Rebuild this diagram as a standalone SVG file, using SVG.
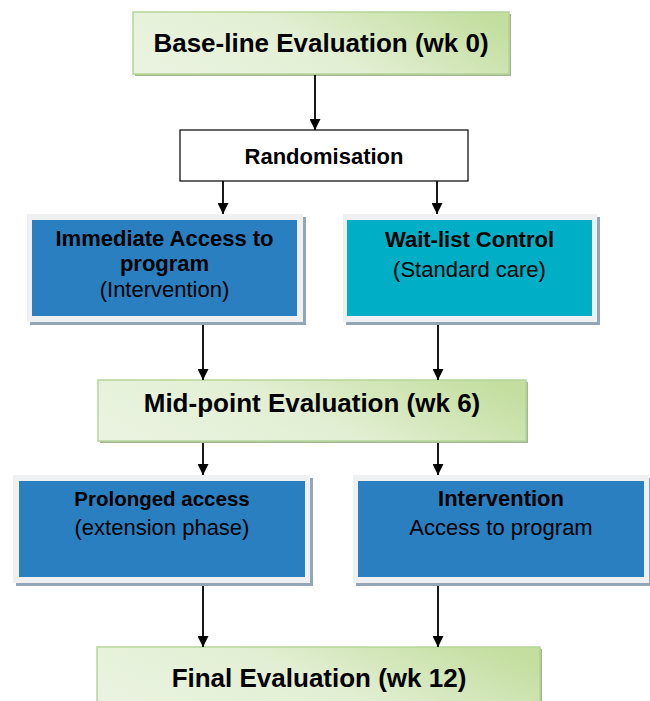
<svg xmlns="http://www.w3.org/2000/svg" width="650" height="701" viewBox="0 0 650 701">
<defs>
<linearGradient id="g" x1="0" y1="0.6" x2="1" y2="0.3">
<stop offset="0" stop-color="#e9f3df"/>
<stop offset="0.45" stop-color="#e3efd4"/>
<stop offset="1" stop-color="#c3de9f"/>
</linearGradient>
<marker id="ah" viewBox="0 0 10 10" refX="10" refY="5" markerWidth="11" markerHeight="11" markerUnits="userSpaceOnUse" orient="auto">
<path d="M0,0 L10,5 L0,10 z" fill="#000"/>
</marker>
<style>
.ev{fill:url(#g);stroke:#b5d698;stroke-width:1.5}
.evs{fill:#a3b592}
.frame{fill:#eef0f2}
.fs{fill:#93a6b8}
.blue{fill:#2a7fc1}
.cyan{fill:#00afc6}
.t{font-family:"Liberation Sans",Arial,sans-serif;fill:#000;text-anchor:middle}
.b{font-weight:bold}
.c line{stroke:#000;stroke-width:1.8;marker-end:url(#ah)}
</style>
</defs>
<rect width="650" height="701" fill="#fff"/>

<g id="baseline">
<rect class="evs" x="135" y="14" width="376" height="62"/>
<rect class="ev" x="133" y="12" width="376" height="62"/>
<text class="t b" x="321" y="52" font-size="26">Base-line Evaluation (wk 0)</text>
</g>

<g id="randomisation">
<rect x="180" y="130" width="288" height="51" fill="#fff" stroke="#000" stroke-width="1.2"/>
<text class="t b" x="324" y="164" font-size="22">Randomisation</text>
</g>

<g id="immediate">
<rect class="fs" x="30" y="217" width="276" height="108"/>
<rect class="frame" x="27" y="214" width="276" height="108"/>
<rect class="blue" x="32" y="220" width="265" height="96"/>
<text class="t b" x="164.5" y="246" font-size="22">Immediate Access to</text>
<text class="t b" x="164.5" y="271" font-size="22">program</text>
<text class="t" x="164.5" y="297" font-size="22">(Intervention)</text>
</g>

<g id="waitlist">
<rect class="fs" x="346" y="217" width="254" height="108"/>
<rect class="frame" x="343" y="214" width="254" height="108"/>
<rect class="cyan" x="347" y="220" width="245" height="96"/>
<text class="t b" x="469.5" y="247" font-size="22">Wait-list Control</text>
<text class="t" x="469.5" y="277" font-size="22">(Standard care)</text>
</g>

<g id="midpoint">
<rect class="evs" x="100" y="382" width="428" height="61"/>
<rect class="ev" x="98" y="380" width="428" height="61"/>
<text class="t b" x="312" y="412" font-size="26">Mid-point Evaluation (wk 6)</text>
</g>

<g id="prolonged">
<rect class="fs" x="16" y="478" width="297" height="108"/>
<rect class="frame" x="13" y="475" width="297" height="108"/>
<rect class="blue" x="19" y="481" width="286" height="96"/>
<text class="t b" x="162" y="506" font-size="20.5">Prolonged access</text>
<text class="t" x="162" y="535" font-size="22">(extension phase)</text>
</g>

<g id="intervention">
<rect class="fs" x="356" y="478" width="296" height="108"/>
<rect class="frame" x="353" y="475" width="296" height="108"/>
<rect class="blue" x="358" y="481" width="286" height="96"/>
<text class="t b" x="501" y="506" font-size="22">Intervention</text>
<text class="t" x="501" y="535" font-size="22">Access to program</text>
</g>

<g id="final">
<rect class="evs" x="99" y="649" width="443" height="60"/>
<rect class="ev" x="97" y="647" width="443" height="60"/>
<text class="t b" x="319" y="687" font-size="26">Final Evaluation (wk 12)</text>
</g>

<g id="connectors" class="c">
<line x1="315" y1="75" x2="315" y2="130"/>
<line x1="223" y1="181" x2="223" y2="214"/>
<line x1="437" y1="181" x2="437" y2="214"/>
<line x1="203" y1="325" x2="203" y2="380"/>
<line x1="438" y1="325" x2="438" y2="380"/>
<line x1="203" y1="443" x2="203" y2="475"/>
<line x1="438" y1="443" x2="438" y2="475"/>
<line x1="203" y1="586" x2="203" y2="647"/>
<line x1="438" y1="586" x2="438" y2="647"/>
</g>
</svg>
